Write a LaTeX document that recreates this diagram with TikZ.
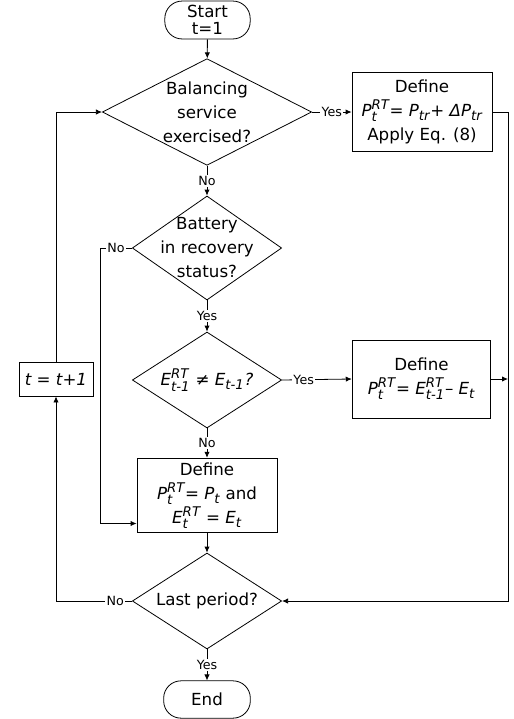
\documentclass[tikz,border=0pt]{standalone}
\usepackage{fontspec}
\setmainfont{DejaVu Sans}
\usepackage{amsmath}
\DeclareMathSizes{12.5}{12.5}{10}{8}
\usetikzlibrary{arrows.meta,positioning,shapes.geometric,calc}
\newcommand\iv[1]{\textit{#1}}

\begin{document}
\begin{tikzpicture}[x=0.75pt,y=-0.75pt,>={Latex[length=4.5pt,width=4pt]},line width=0.6pt,
  every node/.style={font=\fontsize{12.5}{18}\selectfont},
  box/.style={draw,align=center,inner sep=1pt},
  decision/.style={draw,diamond,inner sep=0pt},
  term/.style={draw,rounded corners=13pt,align=center},
  lbl/.style={fill=white,inner sep=1pt,font=\fontsize{9.5}{10}\selectfont}]
\useasboundingbox (0,0) rectangle (514,719);
% main column
\node[term,minimum width=64pt,minimum height=27pt,font=\fontsize{12.5}{12.5}\selectfont] (start) at (207.5,20) {Start\\t=1};
\node[decision,minimum width=157pt,minimum height=80pt] (q1) at (207,112) {};
\node[align=center] (q1txt) at (q1) {Balancing\\service\\exercised?};
\node[decision,minimum width=112pt,minimum height=78pt] (q2) at (207,248) {};
\node[align=center] (q2txt) at (q2) {Battery\\in recovery\\status?};
\node[decision,minimum width=112pt,minimum height=72pt] (q3) at (207,380) {};
\node (q3txt) at (q3) {$\iv{E}_{\iv{t-1}}^{\iv{RT}}$ ≠ \iv{E}$_{\iv{t-1}}$\iv{?}};
\node[box,minimum width=105pt,minimum height=56pt] (def3) at (207,495.5) {Define\\$\iv{P}_{\iv{t}}^{\iv{RT}}$= \iv{P}$_{\iv{t}}$ and\\$\iv{E}_{\iv{t}}^{\iv{RT}}$ = \iv{E}$_{\iv{t}}$};
\node[decision,minimum width=112pt,minimum height=72pt] (q4) at (207,601) {};
\node (q4txt) at (q4) {Last period?};
\node[term,minimum width=65pt,minimum height=28pt] (stop) at (207,699.5) {End};
% side boxes
\node[box,minimum width=105pt,minimum height=59pt] (def1) at (422,112) {Define\\$\iv{P}_{\iv{t}}^{\iv{RT}}$= \iv{P}$_{\iv{tr}}$+ \iv{ΔP}$_{\iv{tr}}$\\Apply Eq. (8)};
\node[box,minimum width=104pt,minimum height=58.5pt] (def2) at (421.5,379) {Define\\$\iv{P}_{\iv{t}}^{\iv{RT}}$= $\iv{E}_{\iv{t-1}}^{\iv{RT}}$– \iv{E}$_{\iv{t}}$};
\node[box,minimum width=55.5pt,minimum height=25.5pt] (step) at (56,379) {\iv{t = t+1}};
\coordinate (rbus) at (508,601);
\coordinate (lbus) at (100,248);
\coordinate (b3in) at ([yshift=-21pt]def3.west);
% connectors
\draw[->] (start)--(q1);\draw[->] (q1)--node[lbl]{No}(q2);\draw[->] (q2)--node[lbl]{Yes}(q3);\draw[->] (q3)--node[lbl]{No}(def3);\draw[->] (def3)--(q4);\draw[->] (q4)--node[lbl]{Yes}(stop);
\draw[->] (q1.east)--node[lbl]{Yes}(def1.west);
\draw[->] (q3.east)--node[lbl,pos=0.31]{Yes}(def2.west);
\draw[->] (q2.west)--node[lbl]{No}(lbus)|-(b3in);
\draw[->] (def1.east)-|(rbus)--(q4.east);
\draw[->] (def2.east)--(def2.east-|rbus);
\draw[->] (q4.west)--node[lbl,pos=0.22]{No}(q4.west-|step)--(step.south);
\draw[->] (step.north)|-(q1.west);
\end{tikzpicture}
\end{document}
